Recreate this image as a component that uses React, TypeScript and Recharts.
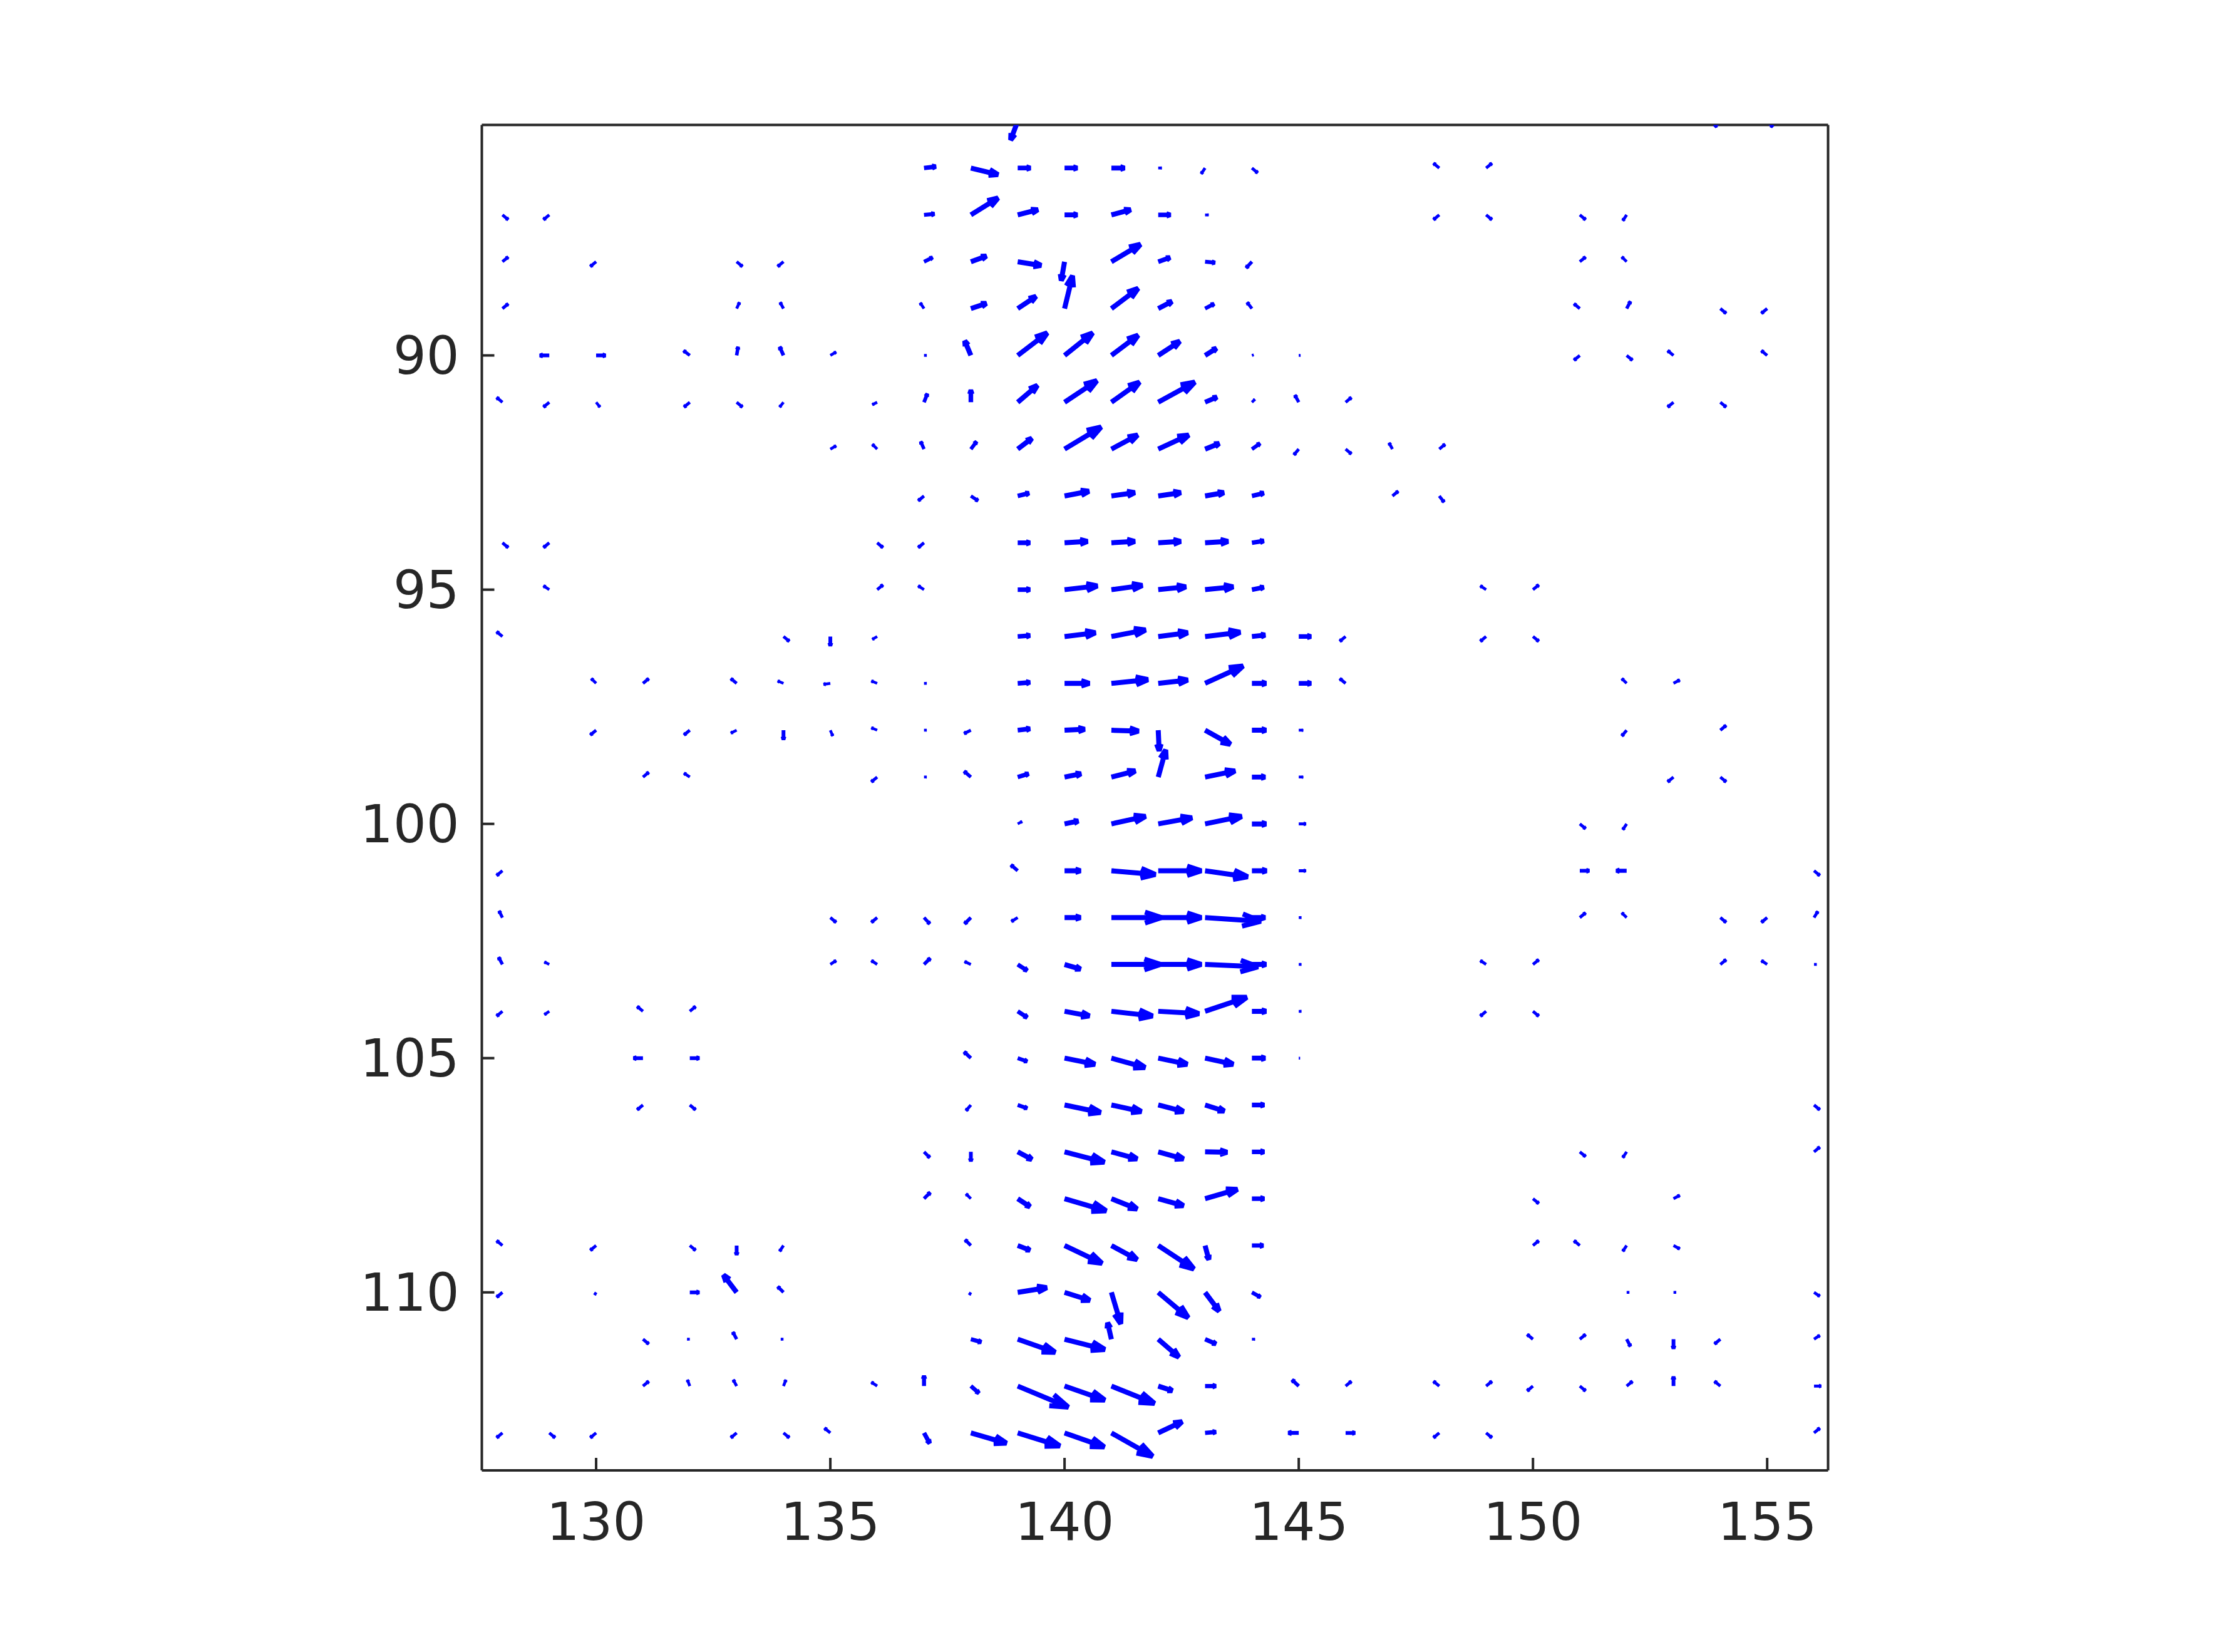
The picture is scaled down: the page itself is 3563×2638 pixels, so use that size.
import { ScatterChart, Scatter, XAxis, YAxis } from "recharts";

// Each row is one latitude line: [x, u, v], u to the right, v downwards, in axis units
const row85 = [[139, -0.15, 0.4], [154, -0.12, 0.12], [155, 0.12, 0.12]];
const row86 = [[137, 0.25, -0.03], [138, 0.58, 0.14], [139, 0.27, 0], [140, 0.27, 0], [141, 0.28, 0], [142, 0.07, 0], [143, -0.08, 0.12], [144, 0.12, 0.1], [148, -0.12, -0.1], [149, 0.12, -0.1]];
const row87 = [[128, 0.12, 0.1], [129, -0.12, 0.1], [137, 0.22, -0.02], [138, 0.58, -0.36], [139, 0.43, -0.11], [140, 0.27, 0], [141, 0.41, -0.11], [142, 0.26, 0], [143, 0.07, 0], [148, -0.12, 0.1], [149, 0.12, 0.1], [151, 0.12, 0.1], [152, -0.08, 0.12]];
const row88 = [[128, 0.12, -0.1], [130, -0.12, 0.1], [133, 0.12, 0.1], [134, -0.12, 0.1], [137, 0.18, -0.09], [138, 0.33, -0.12], [139, 0.5, 0.08], [140, -0.07, 0.4], [141, 0.62, -0.37], [142, 0.25, -0.09], [143, 0.21, 0.02], [144, -0.12, 0.13], [151, 0.12, -0.1], [152, -0.1, -0.1]];
const row89 = [[128, 0.12, -0.1], [133, 0.06, -0.13], [134, -0.07, -0.13], [137, -0.08, -0.12], [138, 0.33, -0.11], [139, 0.39, -0.26], [140, 0.17, -0.7], [141, 0.57, -0.43], [142, 0.29, -0.15], [143, 0.19, -0.1], [144, -0.1, -0.13], [151, -0.12, -0.1], [152, 0.08, -0.15], [154, 0.12, 0.1], [155, -0.12, 0.1]];
const row90 = [[129, -0.2, 0], [130, 0.2, 0], [132, -0.13, -0.1], [133, 0.03, -0.18], [134, -0.08, -0.18], [135, 0.12, -0.07], [137, 0.05, 0], [138, -0.13, -0.31], [139, 0.63, -0.48], [140, 0.6, -0.48], [141, 0.57, -0.43], [142, 0.46, -0.3], [143, 0.24, -0.15], [144, 0.03, -0.01], [145, 0.03, 0], [151, -0.12, 0.1], [152, 0.12, 0.1], [153, -0.12, -0.1], [155, -0.12, -0.1]];
const row91 = [[128, -0.12, -0.1], [129, -0.12, 0.1], [130, 0.08, 0.1], [132, -0.12, 0.1], [133, 0.12, 0.1], [134, -0.08, 0.1], [136, -0.1, 0.05], [137, 0.07, -0.18], [138, 0, -0.26], [139, 0.42, -0.36], [140, 0.69, -0.46], [141, 0.6, -0.43], [142, 0.78, -0.43], [143, 0.25, -0.11], [144, 0.06, -0.06], [145, -0.08, -0.15], [146, 0.12, -0.1], [153, -0.12, 0.1], [154, 0.12, 0.1]];
const row92 = [[135, 0.12, -0.07], [136, -0.1, -0.1], [137, -0.07, -0.16], [138, 0.12, -0.16], [139, 0.3, -0.23], [140, 0.78, -0.47], [141, 0.56, -0.3], [142, 0.65, -0.3], [143, 0.3, -0.12], [144, 0.17, -0.12], [145, -0.1, 0.12], [146, 0.12, 0.1], [147, -0.07, -0.13], [148, 0.12, -0.1]];
const row93 = [[137, -0.12, 0.1], [138, 0.15, 0.1], [139, 0.24, -0.06], [140, 0.52, -0.1], [141, 0.5, -0.07], [142, 0.48, -0.07], [143, 0.4, -0.07], [144, 0.25, -0.06], [147, 0.12, -0.1], [148, 0.1, 0.13]];
const row94 = [[128, 0.12, 0.1], [129, -0.12, 0.1], [136, 0.12, 0.1], [137, -0.12, 0.1], [139, 0.26, 0], [140, 0.49, -0.03], [141, 0.5, -0.03], [142, 0.48, -0.03], [143, 0.49, -0.03], [144, 0.25, -0.04]];
const row95 = [[129, -0.12, -0.08], [136, 0.12, -0.1], [137, -0.12, -0.08], [139, 0.26, 0], [140, 0.7, -0.08], [141, 0.66, -0.09], [142, 0.59, -0.06], [143, 0.6, -0.06], [144, 0.25, -0.05], [149, -0.12, -0.08], [150, 0.12, -0.1]];
const row96 = [[128, -0.12, -0.1], [134, 0.12, 0.1], [135, 0, 0.2], [136, -0.1, 0.06], [139, 0.26, -0.02], [140, 0.66, -0.08], [141, 0.73, -0.14], [142, 0.63, -0.08], [143, 0.75, -0.09], [144, 0.28, -0.03], [145, 0.26, 0], [146, -0.12, 0.1], [149, -0.12, 0.1], [150, 0.12, 0.1]];
const row97 = [[130, -0.1, -0.1], [131, 0.12, -0.1], [133, -0.12, -0.1], [134, -0.12, -0.05], [135, -0.14, 0.02], [136, -0.12, -0.05], [137, 0.05, 0], [139, 0.26, -0.02], [140, 0.53, 0], [141, 0.78, -0.08], [142, 0.63, -0.07], [143, 0.81, -0.37], [144, 0.3, 0], [145, 0.26, 0], [146, -0.12, -0.1], [152, -0.1, -0.1], [153, 0.13, -0.07]];
const row98 = [[130, -0.12, 0.1], [132, -0.12, 0.1], [133, -0.12, 0.06], [134, 0, 0.2], [135, 0.05, 0.12], [136, -0.12, -0.05], [137, 0.05, 0], [138, -0.14, 0.07], [139, 0.26, -0.03], [140, 0.43, -0.02], [141, 0.58, 0.02], [142, 0.02, 0.44], [143, 0.54, 0.3], [144, 0.3, 0], [145, 0.09, 0], [152, -0.1, 0.12], [154, 0.12, -0.1]];
const row99 = [[131, 0.12, -0.1], [132, -0.12, -0.08], [136, -0.12, 0.1], [137, 0.05, 0], [138, -0.14, -0.12], [139, 0.23, -0.07], [140, 0.35, -0.07], [141, 0.51, -0.13], [142, 0.16, -0.58], [143, 0.64, -0.13], [144, 0.28, 0], [145, 0.09, 0], [153, -0.12, 0.1], [154, 0.12, 0.1]];
const row100 = [[139, 0.09, -0.05], [140, 0.29, -0.06], [141, 0.73, -0.16], [142, 0.72, -0.13], [143, 0.78, -0.16], [144, 0.3, 0], [145, 0.15, 0], [151, 0.12, 0.1], [152, -0.08, 0.12]];
const row101 = [[128, -0.12, 0.1], [139, -0.14, -0.12], [140, 0.34, 0], [141, 0.94, 0.08], [142, 0.92, 0], [143, 0.91, 0.13], [144, 0.31, 0], [145, 0.15, 0], [151, 0.2, 0], [152, -0.22, 0], [156, 0.12, 0.1]];
const row102 = [[128, -0.07, -0.14], [135, 0.12, 0.1], [136, -0.12, 0.1], [137, 0.12, 0.13], [138, -0.13, 0.13], [139, -0.13, 0.08], [140, 0.34, 0], [141, 1.07, 0], [142, 0.92, 0], [143, 1.19, 0.08], [144, 0.28, 0], [145, 0.05, 0], [151, 0.12, -0.1], [152, -0.1, -0.1], [154, 0.12, 0.1], [155, -0.12, 0.1], [156, 0.08, -0.13]];
const row103 = [[128, -0.08, -0.15], [129, -0.1, -0.05], [135, 0.12, -0.08], [136, -0.12, -0.08], [137, 0.13, -0.13], [138, -0.13, -0.06], [139, 0.2, 0.13], [140, 0.34, 0.1], [141, 1.05, 0], [142, 0.92, 0], [143, 1.13, 0.05], [144, 0.3, 0], [145, 0.05, 0], [149, -0.12, -0.08], [150, 0.12, -0.1], [154, 0.12, -0.1], [155, -0.12, -0.08], [156, 0.05, 0]];
const row104 = [[128, -0.12, 0.1], [129, -0.1, 0.07], [131, -0.12, -0.1], [132, 0.12, -0.1], [139, 0.2, 0.13], [140, 0.53, 0.1], [141, 0.88, 0.1], [142, 0.87, 0.05], [143, 0.89, -0.3], [144, 0.3, 0], [145, 0.05, 0], [149, -0.12, 0.1], [150, 0.12, 0.1]];
const row105 = [[131, -0.2, 0], [132, 0.2, 0], [138, -0.14, -0.13], [139, 0.2, 0.07], [140, 0.65, 0.13], [141, 0.72, 0.2], [142, 0.62, 0.13], [143, 0.6, 0.13], [144, 0.28, 0], [145, 0.02, 0]];
const row106 = [[131, -0.12, 0.1], [132, 0.12, 0.1], [138, -0.1, 0.12], [139, 0.2, 0.07], [140, 0.77, 0.16], [141, 0.64, 0.14], [142, 0.54, 0.14], [143, 0.41, 0.13], [144, 0.26, 0], [156, 0.12, 0.1]];
const row107 = [[137, 0.12, 0.12], [138, 0, 0.2], [139, 0.3, 0.16], [140, 0.85, 0.22], [141, 0.55, 0.15], [142, 0.54, 0.15], [143, 0.47, 0.01], [144, 0.26, 0], [151, 0.12, 0.1], [152, -0.08, 0.12], [156, 0.12, -0.1]];
const row108 = [[137, 0.13, -0.13], [138, -0.1, -0.1], [139, 0.26, 0.17], [140, 0.89, 0.26], [141, 0.55, 0.22], [142, 0.54, 0.15], [143, 0.69, -0.2], [144, 0.26, 0], [150, 0.12, 0.1], [153, 0.13, -0.07]];
const row109 = [[128, -0.12, -0.1], [130, -0.12, 0.1], [132, 0.12, 0.1], [133, 0, 0.2], [134, -0.08, 0.12], [138, -0.12, -0.12], [139, 0.26, 0.1], [140, 0.8, 0.38], [141, 0.55, 0.3], [142, 0.76, 0.5], [143, 0.08, 0.3], [144, 0.24, 0], [150, 0.12, -0.1], [151, -0.12, -0.1], [152, -0.08, 0.12], [153, 0.13, 0.07]];
const row110 = [[128, -0.12, 0.1], [130, -0.03, 0.05], [132, 0.2, 0], [133, -0.28, -0.37], [134, -0.12, -0.12], [138, -0.03, 0.05], [139, 0.62, -0.1], [140, 0.54, 0.17], [141, 0.2, 0.67], [142, 0.64, 0.54], [143, 0.3, 0.4], [144, 0.18, 0.1], [152, 0.05, 0], [153, 0.05, 0], [156, 0.12, 0.08]];
const row111 = [[131, 0.12, 0.1], [132, -0.05, 0], [133, -0.08, -0.15], [134, -0.05, 0], [138, 0.22, 0.06], [139, 0.8, 0.28], [140, 0.86, 0.22], [141, -0.08, -0.35], [142, 0.44, 0.38], [143, 0.23, 0.1], [144, 0.06, 0], [150, -0.12, -0.1], [151, 0.12, -0.1], [152, 0.08, 0.15], [153, 0, 0.2], [154, -0.12, 0.1], [156, 0.12, -0.08]];
const row112 = [[131, 0.12, -0.1], [132, -0.05, -0.13], [133, -0.07, -0.13], [134, 0.05, -0.13], [136, -0.12, -0.08], [137, 0, -0.22], [138, 0.17, 0.15], [139, 1.08, 0.45], [140, 0.86, 0.3], [141, 0.92, 0.37], [142, 0.3, 0.1], [143, 0.23, 0], [145, -0.14, -0.13], [146, 0.12, -0.1], [148, -0.12, -0.1], [149, 0.12, -0.1], [150, -0.12, 0.1], [151, 0.12, 0.1], [152, 0.12, -0.1], [153, 0, -0.2], [154, -0.12, -0.1], [156, 0.15, 0]];
const row113 = [[128, -0.12, 0.1], [129, 0.12, 0.1], [130, -0.12, 0.1], [133, -0.12, 0.1], [134, 0.12, 0.1], [135, -0.12, -0.1], [137, 0.12, 0.22], [138, 0.76, 0.22], [139, 0.9, 0.28], [140, 0.85, 0.3], [141, 0.88, 0.5], [142, 0.51, -0.24], [143, 0.23, -0.02], [145, -0.22, 0], [146, 0.2, 0], [148, -0.12, 0.1], [149, 0.12, 0.1], [156, 0.12, -0.1]];

const rows = [
  row85, row86, row87, row88, row89, row90, row91, row92, row93, row94, row95, row96, row97, row98, row99,
  row100, row101, row102, row103, row104, row105, row106, row107, row108, row109, row110, row111, row112, row113,
];

const xTicks = [130, 135, 140, 145, 150, 155];
const yTicks = [90, 95, 100, 105, 110];
const xDomain = [127.56, 156.3];
const yDomain = [85.08, 113.8];

const arrows = rows.flatMap((row, i) => row.map(([x, u, v]) => ({ x, y: 85 + i, u, v })));

const WIDTH = 3563;
const HEIGHT = 2638;
const LEFT = 769.5;
const RIGHT = 2919.5;
const TOP = 199.5;
const BOTTOM = 2348;
const PX_PER_UNIT = (RIGHT - LEFT) / (xDomain[1] - xDomain[0]);
const AXIS_COLOR = "#262626";

// quiver style arrow: shaft plus two barbs, a third of the length back from the tip
const Arrow = ({ cx, cy, payload }: any) => {
  const dx = payload.u * PX_PER_UNIT;
  const dy = payload.v * PX_PER_UNIT;
  const tipX = cx + dx;
  const tipY = cy + dy;
  const a = 0.33;
  const b = 0.33;
  const barb1X = tipX - a * (dx + b * dy);
  const barb1Y = tipY - a * (dy - b * dx);
  const barb2X = tipX - a * (dx - b * dy);
  const barb2Y = tipY - a * (dy + b * dx);
  // the tiny arrows come out thinner in the reference
  const len = Math.hypot(dx, dy);
  const weight = Math.max(4.5, Math.min(8, len * 0.3 + 1.5));
  return (
    <path
      d={`M${cx} ${cy}L${tipX} ${tipY}M${barb1X} ${barb1Y}L${tipX} ${tipY}L${barb2X} ${barb2Y}`}
      fill="none"
      stroke="#0000ff"
      strokeWidth={weight}
      strokeLinejoin="bevel"
    />
  );
};

const tickStyle = { fontSize: 83, fontFamily: "DejaVu Sans", fill: AXIS_COLOR };
const lineStyle = { stroke: AXIS_COLOR, strokeWidth: 4 };

export default function App() {
  return (
    <div style={{ position: "absolute", left: 0, top: 0, width: WIDTH, height: HEIGHT, background: "#fff" }}>
      <ScatterChart
        width={WIDTH}
        height={HEIGHT}
        margin={{ top: TOP - 1, left: LEFT - 1, right: WIDTH - RIGHT - 1, bottom: HEIGHT - BOTTOM - 1 }}
      >
        <XAxis
          xAxisId="bottom"
          type="number"
          dataKey="x"
          orientation="bottom"
          domain={xDomain}
          ticks={xTicks}
          allowDataOverflow
          height={1}
          tickSize={-20}
          tickMargin={72}
          axisLine={lineStyle}
          tickLine={lineStyle}
          tick={tickStyle}
          interval={0}
        />
        <XAxis
          xAxisId="top"
          type="number"
          orientation="top"
          domain={xDomain}
          ticks={xTicks}
          allowDataOverflow
          height={1}
          tickSize={-20}
          axisLine={lineStyle}
          tickLine={lineStyle}
          tick={false}
          interval={0}
        />
        <YAxis
          yAxisId="left"
          type="number"
          dataKey="y"
          orientation="left"
          domain={yDomain}
          ticks={yTicks}
          reversed
          allowDataOverflow
          width={1}
          tickSize={-20}
          tickMargin={56}
          axisLine={lineStyle}
          tickLine={lineStyle}
          tick={tickStyle}
          interval={0}
        />
        <YAxis
          yAxisId="right"
          type="number"
          orientation="right"
          domain={yDomain}
          ticks={yTicks}
          reversed
          allowDataOverflow
          width={1}
          tickSize={-20}
          axisLine={lineStyle}
          tickLine={lineStyle}
          tick={false}
          interval={0}
        />
        <Scatter
          xAxisId="bottom"
          yAxisId="left"
          data={arrows}
          shape={Arrow}
          isAnimationActive={false}
        />
      </ScatterChart>
    </div>
  );
}
